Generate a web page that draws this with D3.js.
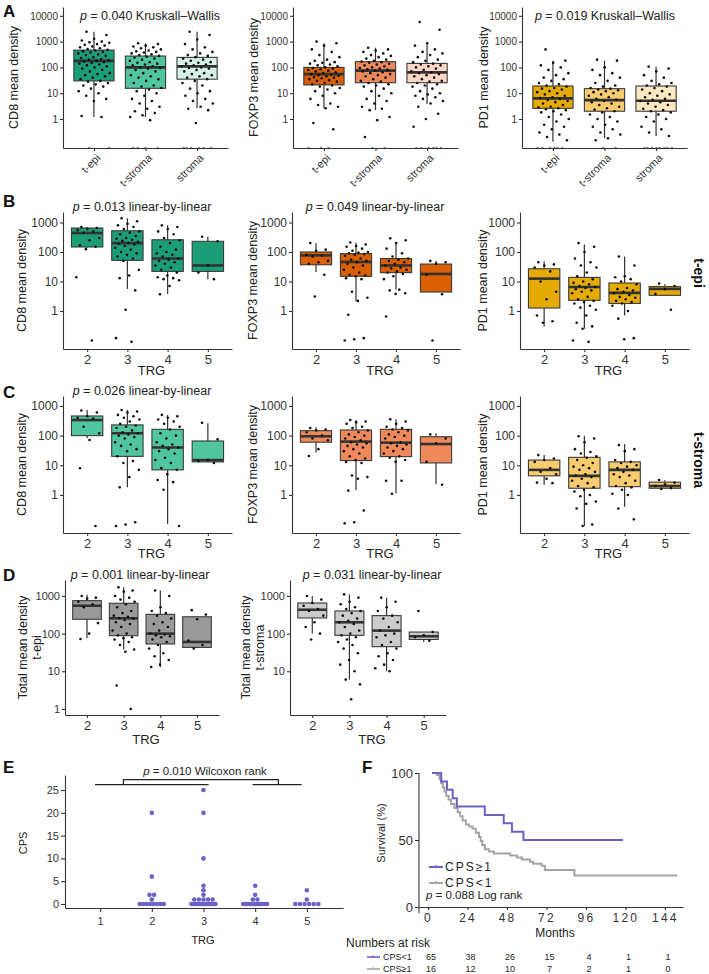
<!DOCTYPE html>
<html>
<head>
<meta charset="utf-8">
<script src="https://cdn.jsdelivr.net/npm/d3@7"></script>
<style>
body { margin: 0; background: #fff; }
</style>
</head>
<body>
<div id="vis"></div>
<script>
var W = 709, H = 974;
var FONT = "Liberation Sans, Arial, sans-serif";

/* categories */
var regions = ["t-epi", "t-stroma", "stroma"];
var trgLevels = ["2", "3", "4", "5"];

/* box stats: [low whisker, q1, median, q3, high whisker] ; 0 = zero density */
var boxCD8Region = [[1.2, 30, 180, 470, 2400], [1.2, 15.5, 100, 276, 860], [2.6, 35, 110, 245, 2400]];
var boxFOXP3Region = [[2.6, 21, 55, 100, 860], [2.2, 25.5, 75, 167, 580], [3.8, 25.5, 64, 143, 860]];
var boxPD1Region = [[0.13, 2.6, 6.3, 19, 183], [0.18, 2.0, 5.4, 15, 183], [0.22, 2.0, 5.1, 19, 107]];

var ptsCD8Region = [
  [2400, 1800, 1300, 1100, 1000, 950, 900, 800, 750, 700, 650, 600, 550, 520, 480, 450, 420, 400, 380, 350, 320, 300, 280, 250, 230, 210, 200, 190, 180, 170, 160, 150, 140, 130, 120, 110, 100, 90, 80, 70, 60, 55, 50, 45, 40, 35, 30, 28, 25, 22, 20, 18, 15, 12, 10, 8, 6, 5, 1.3, 1.2, 0, 0],
  [860, 800, 700, 650, 600, 550, 500, 450, 420, 400, 380, 350, 320, 300, 280, 260, 240, 220, 200, 180, 160, 150, 140, 130, 120, 110, 100, 95, 90, 80, 70, 60, 50, 45, 40, 35, 30, 25, 20, 18, 16, 14, 12, 10, 8, 6, 5, 4, 3, 2.5, 2, 1.7, 1.4, 1.2, 0.9, 0, 0, 0, 0],
  [2400, 1800, 1200, 800, 600, 500, 400, 350, 300, 280, 250, 220, 200, 180, 160, 150, 140, 130, 120, 110, 100, 95, 90, 80, 70, 60, 55, 50, 45, 40, 35, 30, 25, 20, 15, 12, 10, 8, 6, 5, 4, 3, 2.5, 2.2, 0.7, 0, 0, 0, 0, 0, 0]
];
var ptsFOXP3Region = [
  [1000, 860, 700, 500, 400, 300, 250, 200, 180, 160, 150, 140, 130, 120, 110, 100, 95, 90, 85, 80, 75, 70, 65, 60, 55, 52, 50, 48, 45, 42, 40, 38, 35, 32, 30, 28, 25, 22, 20, 18, 16, 14, 12, 10, 8, 6, 4, 3.5, 3, 2.6, 0.7, 0.4, 0, 0, 0],
  [580, 500, 450, 400, 350, 300, 280, 250, 220, 200, 180, 170, 160, 150, 140, 130, 120, 110, 100, 95, 90, 85, 80, 75, 70, 65, 60, 55, 50, 45, 40, 35, 30, 28, 25, 22, 20, 18, 15, 12, 10, 8, 6, 5, 4, 3, 2.5, 2.2, 1.2, 0.9, 0.2, 0, 0],
  [5800, 2900, 860, 700, 500, 400, 350, 300, 250, 200, 180, 160, 140, 130, 120, 110, 100, 90, 80, 70, 65, 60, 55, 50, 45, 40, 35, 30, 28, 25, 22, 20, 18, 15, 12, 10, 9, 8, 7, 6, 5, 4, 3, 1.6, 1, 0.5, 0, 0, 0, 0, 0, 0]
];
var ptsPD1Region = [
  [500, 183, 150, 120, 100, 80, 60, 50, 40, 35, 30, 25, 22, 20, 18, 16, 15, 14, 12, 11, 10, 9, 8, 7, 6.5, 6, 5.5, 5, 4.5, 4, 3.5, 3, 2.8, 2.6, 2.4, 2.2, 2, 1.8, 1.5, 1.2, 1, 0.8, 0.6, 0.5, 0.4, 0.3, 0.25, 0.2, 0.15, 0, 0, 0, 0, 0, 0],
  [200, 183, 100, 80, 60, 50, 40, 30, 25, 20, 18, 16, 15, 14, 13, 12, 11, 10, 9, 8, 7, 6, 5.5, 5, 4.5, 4, 3.5, 3, 2.6, 2.3, 2, 1.8, 1.5, 1.2, 1, 0.8, 0.6, 0.5, 0.4, 0.3, 0.25, 0.18, 0.15, 0, 0],
  [107, 90, 70, 50, 40, 30, 25, 22, 20, 18, 16, 14, 12, 10, 9, 8, 7, 6, 5.5, 5, 4.5, 4, 3.5, 3, 2.5, 2.2, 2, 1.8, 1.5, 1.2, 1, 0.8, 0.5, 0.4, 0.3, 0.22, 0, 0, 0, 0, 0, 0, 0, 0]
];

/* t-epi by TRG */
var boxCD8Epi = [[140, 148, 440, 650, 700], [5.6, 52, 200, 525, 1400], [3.8, 22, 60, 260, 800], [12, 22, 35, 230, 330]];
var ptsCD8Epi = [
  [700, 650, 600, 550, 500, 450, 300, 250, 170, 150, 125, 14, 0.1],
  [1400, 1100, 900, 800, 700, 600, 500, 450, 400, 350, 300, 280, 260, 240, 220, 200, 190, 180, 160, 140, 120, 100, 90, 80, 70, 60, 50, 25, 16, 13, 5, 1.1, 0.12, 0.09],
  [800, 700, 600, 500, 400, 300, 250, 200, 150, 120, 100, 90, 80, 70, 60, 55, 50, 45, 40, 35, 30, 25, 20, 16, 14, 13, 12, 11, 7, 3.7],
  [330, 230, 35, 20, 12]
];
var boxFOXP3Epi = [[21, 37, 77, 100, 200], [2.1, 15, 46, 88, 210], [5.3, 20, 35, 60, 210], [4.4, 4.4, 18, 39, 50]];
var ptsFOXP3Epi = [
  [200, 120, 110, 80, 75, 70, 50, 45, 40, 17, 3.1],
  [210, 180, 160, 150, 130, 110, 100, 95, 90, 85, 80, 75, 60, 55, 50, 45, 40, 35, 30, 25, 20, 17, 16, 15, 13, 12, 4.5, 2.8, 2.2, 0.75, 0.12, 0.11, 0.1],
  [290, 250, 200, 130, 90, 70, 60, 55, 50, 45, 40, 35, 30, 28, 25, 22, 20, 18, 15, 12, 5.3, 5, 4, 3.8, 0.65],
  [50, 45, 40, 17, 3.7, 0.1]
];
var boxPD1Epi = [[0.3, 1.26, 12.5, 27, 49], [0.25, 2.3, 6.5, 13.8, 178], [0.7, 1.8, 4.1, 8.9, 71], [3.4, 3.4, 5.6, 6.7, 8]];
var ptsPD1Epi = [
  [45, 38, 35, 30, 22, 10, 4.5, 2.5, 0.7, 0.45, 0.4],
  [200, 150, 100, 60, 45, 35, 30, 20, 15, 12, 10, 9, 8, 7, 6.5, 6, 5.5, 5, 4.5, 4, 3, 2.5, 2.2, 2, 1.8, 1.5, 1.3, 1.1, 0.7, 0.4, 0.3, 0.25, 0.1, 0.09],
  [70, 35, 15, 14, 12, 10, 8, 6, 5.5, 5, 4.5, 4, 3.5, 3, 2.8, 2.5, 2.2, 2, 1.8, 1.5, 1, 0.55, 0.12, 0.11],
  [8.5, 7, 5.5, 3.8, 1.1]
];

/* t-stroma by TRG */
var boxCD8Str = [[81, 100, 335, 460, 730], [1.8, 20, 120, 230, 730], [0.105, 7, 40, 163, 500], [13, 13, 15, 66, 260]];
var ptsCD8Str = [
  [700, 600, 450, 400, 380, 200, 120, 71, 7.9, 0.09],
  [730, 650, 600, 500, 450, 400, 350, 300, 250, 220, 200, 180, 150, 130, 120, 110, 100, 90, 80, 60, 50, 45, 35, 30, 20, 14, 12, 7, 4, 1.8, 0.12, 0.1, 0.09],
  [500, 450, 400, 350, 300, 250, 200, 160, 120, 100, 80, 60, 50, 45, 40, 35, 30, 25, 18, 15, 12, 8, 7, 5, 3.2, 2.7, 1.5, 0.09],
  [270, 75, 15, 14, 12]
];
var boxFOXP3Str = [[27, 60, 95, 147, 190], [1.47, 14.4, 63, 155, 335], [1.14, 19.6, 58, 163, 355], [2.3, 12, 52, 92, 120]];
var ptsFOXP3Str = [
  [180, 160, 150, 130, 100, 80, 70, 35, 20.6],
  [335, 300, 280, 250, 200, 180, 150, 130, 110, 100, 90, 80, 70, 60, 55, 50, 45, 40, 35, 30, 25, 20, 17, 15, 13, 12, 4.5, 4, 3.5, 1.4, 0.3, 0.12, 0.11],
  [355, 300, 250, 200, 180, 160, 150, 130, 110, 100, 90, 80, 60, 55, 50, 45, 40, 35, 30, 25, 20, 18, 15, 13, 3, 3, 1.1],
  [110, 80, 55, 13, 2.2]
];
var boxPD1Str = [[2.2, 4.4, 7, 15, 22], [0.09, 1.68, 4.4, 18.5, 100], [0.4, 1.9, 7, 13, 52], [1.6, 1.68, 2.0, 2.7, 3.1]];
var ptsPD1Str = [
  [22, 17, 15, 13, 8, 6, 5, 3.5, 2.6, 2.5],
  [95, 80, 60, 35, 28, 25, 20, 18, 15, 12, 10, 9, 8, 7, 6, 5, 4.5, 4, 3.5, 3, 2.5, 2, 1.8, 1.5, 1.3, 1, 0.9, 0.6, 0.5, 0.35, 0.1, 0.09],
  [48, 35, 30, 15, 13, 12, 10, 9, 8, 7, 6, 5, 4.5, 4, 3, 2.5, 2, 1.8, 1.5, 1.1, 1, 0.35, 0.15],
  [3.2, 2.6, 2.3, 2, 1.7, 1.6]
];

/* total density by TRG */
var boxTotalEpi = [[75, 240, 550, 750, 1070], [38, 88, 255, 640, 1700], [12.7, 53, 100, 325, 1400], [43, 43, 60, 280, 280]];
var ptsTotalEpi = [
  [1000, 900, 850, 700, 600, 500, 190, 100, 72],
  [1700, 1400, 1300, 1000, 900, 800, 700, 600, 500, 400, 350, 300, 280, 260, 250, 230, 200, 180, 150, 120, 100, 90, 80, 75, 70, 60, 50, 38, 33, 4.2, 1.0],
  [1400, 1000, 500, 400, 350, 300, 250, 200, 180, 150, 120, 100, 95, 90, 85, 80, 70, 60, 50, 40, 30, 25, 20, 15, 13],
  [420, 320, 240, 65, 50, 40]
];
var boxTotalStr = [[100, 260, 430, 650, 1000], [6, 90, 200, 400, 1100], [10, 45, 120, 300, 900], [60, 70, 85, 110, 110]];
var ptsTotalStr = [
  [1000, 800, 650, 550, 450, 400, 300, 200, 150, 100, 70],
  [1100, 900, 700, 600, 500, 450, 400, 350, 300, 250, 220, 200, 180, 150, 120, 100, 90, 80, 70, 60, 50, 40, 30, 20, 15, 10, 6, 4.5, 1.8],
  [900, 700, 500, 400, 300, 250, 200, 150, 120, 100, 90, 80, 60, 50, 40, 30, 25, 20, 15, 12, 10],
  [400, 110, 90, 80, 65]
];

/* CPS by TRG */
var cpsLevels = ["1", "2", "3", "4", "5"];
var cpsValues = [
  [],
  [20, 6, 2, 2, 1, 0, 0, 0, 0, 0, 0, 0, 0],
  [25, 20, 10, 4, 3, 2, 1, 1, 1, 1, 1, 0, 0, 0, 0, 0, 0, 0, 0, 0, 0, 0, 0, 0, 0, 0, 0, 0, 0],
  [4, 2, 1, 1, 0, 0, 0, 0, 0, 0, 0, 0, 0, 0, 0, 0],
  [3, 1, 0, 0, 0, 0, 0, 0]
];
var cpsGroups = [[0.9, 3.1], [3.95, 4.9]];
var cpsBracketAt = [1.45, 4.45];

/* survival */
var kmMonths = [0, 24, 48, 72, 96, 120, 144];
var kmBlueT = [2.5, 8, 11.5, 15, 17.5, 34.5, 46, 51, 58, 118.5];
var kmBlueS = [100, 93.75, 87.5, 81.25, 75, 68.75, 62.5, 56.25, 50, 50];
var kmGrayT = [2.5, 5.5, 7, 8, 9, 10, 11, 12.5, 14, 16, 18, 19.5, 21, 23, 25, 27, 29, 31, 32, 33, 34.5, 37, 40, 50, 54, 57, 62, 64, 69, 71, 89, 151.5];
var kmGrayS = [100, 98.5, 95.4, 92.3, 89.2, 86.2, 83.1, 80, 76.9, 73.8, 70.8, 67.7, 64.6, 61.5, 60, 58.5, 55.4, 52.3, 49.2, 46.2, 43.1, 41.5, 40, 38.5, 36.9, 35.4, 33.8, 32.3, 30.8, 27.7, 23.5, 23.5];
var riskLabels = ["CPS<1", "CPS\u22651"];
var riskCounts = [[65, 38, 26, 15, 4, 1, 1], [16, 12, 10, 7, 2, 1, 0]];

/* colours */
var cd8Fill = ["#1b9e77", "#50c6a0", "#d5f1e5"];
var foxFill = ["#d95f02", "#f0895a", "#fcd7c5"];
var pd1Fill = ["#e6ab02", "#f7cb6e", "#fde8c1"];
var purple = "#6c62c6";
var grayLine = "#a4a4a4";

var svg = d3.select("#vis").append("svg").attr("width", W).attr("height", H)
    .attr("font-family", FONT);

function jit(j) { return ((j * 0.618034 + 0.27) % 1) - 0.5; }

function styleAxis(sel, size) {
    sel.attr("font-family", FONT).attr("font-size", size);
    sel.selectAll("path, line").attr("stroke", "#333").attr("stroke-width", 1.1);
    sel.selectAll("text").attr("fill", "#333");
}

function pTitle(x, y, rest, size) {
    var t = svg.append("text").attr("x", x).attr("y", y).attr("text-anchor", "middle")
        .attr("font-size", size).attr("fill", "#222");
    t.append("tspan").attr("font-style", "italic").text("p");
    t.append("tspan").text(" = " + rest);
}

function letter(s, x, y) {
    svg.append("text").attr("x", x).attr("y", y).attr("font-size", 17)
        .attr("font-weight", "bold").attr("fill", "#111").text(s);
}

/* one boxplot panel */
function boxPanel(c) {
    var g = svg.append("g");
    var n = c.cats.length;
    var x = d3.scaleLinear().domain([0.4, n + 0.6]).range([c.x0, c.x1]);
    var y = d3.scaleLog().domain(c.domain).range([c.yBot, c.yTop]);
    var bw = (x(2) - x(1)) * 0.78;
    function yv(v) { return v > 0 ? y(v) : c.yBot; }

    c.boxes.forEach(function (b, i) {
        var cx = x(i + 1);
        g.append("line").attr("x1", cx).attr("x2", cx).attr("y1", y(b[0])).attr("y2", y(b[4]))
            .attr("stroke", "#333").attr("stroke-width", 1.2);
        g.append("rect").attr("x", cx - bw / 2).attr("width", bw)
            .attr("y", y(b[3])).attr("height", Math.max(1, y(b[1]) - y(b[3])))
            .attr("fill", c.fills[i]).attr("stroke", "#3a3a3a").attr("stroke-width", 1.1);
        g.append("line").attr("x1", cx - bw / 2).attr("x2", cx + bw / 2)
            .attr("y1", y(b[2])).attr("y2", y(b[2]))
            .attr("stroke", "#333").attr("stroke-width", 2.6);
    });

    c.pts.forEach(function (arr, i) {
        g.selectAll(null).data(arr).enter().append("circle")
            .attr("cx", function (d, j) { return x(i + 1) + jit(j) * bw * 0.8; })
            .attr("cy", yv)
            .attr("r", 1.3)
            .attr("fill", function (d) { return d > 0 ? "#111" : "#8a8a8a"; });
    });

    var ay = g.append("g").attr("transform", "translate(" + c.x0 + ",0)")
        .call(d3.axisLeft(y).tickValues(c.ticks).tickFormat(d3.format("d"))
            .tickSize(3).tickSizeOuter(0).tickPadding(2));
    styleAxis(ay, c.tickFont);

    var ax = g.append("g").attr("transform", "translate(0," + c.yBot + ")")
        .call(d3.axisBottom(x).tickValues(d3.range(1, n + 1))
            .tickFormat(function (d) { return c.cats[d - 1]; })
            .tickSize(3).tickSizeOuter(0));
    styleAxis(ax, c.xFont);
    if (c.rotate) {
        ax.selectAll(".tick text").attr("text-anchor", "end").attr("y", 0).attr("dy", "0.35em")
            .attr("transform", "translate(4,8) rotate(-45)");
    }

    c.yLabel.forEach(function (s, k) {
        svg.append("text")
            .attr("transform", "translate(" + c.yLabelX[k] + "," + (c.yTop + c.yBot) / 2 + ") rotate(-90)")
            .attr("text-anchor", "middle").attr("dy", "0.35em")
            .attr("font-size", 12.5).attr("fill", "#222").text(s);
    });
    if (c.xTitle) {
        svg.append("text").attr("x", (c.x0 + c.x1) / 2 + 4).attr("y", c.xTitleY)
            .attr("text-anchor", "middle").attr("font-size", 13).attr("fill", "#222").text(c.xTitle);
    }
    if (c.title) pTitle(c.titleX, c.yTop - (c.titleGap || 1), c.title, 12.5);
}

/* ---------- Panel A ---------- */
var aX0 = [63, 293, 522];
var aBoxes = [boxCD8Region, boxFOXP3Region, boxPD1Region];
var aPts = [ptsCD8Region, ptsFOXP3Region, ptsPD1Region];
var aFills = [cd8Fill, foxFill, pd1Fill];
var markers = ["CD8", "FOXP3", "PD1"];
var aTitles = ["0.040 Kruskall\u2013Wallis", null, "0.019 Kruskall\u2013Wallis"];
var aTitleX = [150, 0, 605];
var aLabX = [14, 254, 484];
aX0.forEach(function (x0, k) {
    boxPanel({
        x0: x0, x1: x0 + 165, yTop: 7, yBot: 148, domain: [0.075, 22000],
        ticks: [1, 10, 100, 1000, 10000], cats: regions,
        boxes: aBoxes[k], pts: aPts[k], fills: aFills[k],
        tickFont: 10, xFont: 11, rotate: true,
        yLabel: [markers[k] + " mean density"], yLabelX: [aLabX[k]],
        title: aTitles[k], titleX: aTitleX[k], titleGap: -13
    });
});

/* ---------- Panels B and C ---------- */
var bcX0 = [63, 292, 520], bcX1 = [232, 460, 689];
var bLabX = [22, 253, 483];
var bBoxes = [boxCD8Epi, boxFOXP3Epi, boxPD1Epi], bPts = [ptsCD8Epi, ptsFOXP3Epi, ptsPD1Epi];
var cBoxes = [boxCD8Str, boxFOXP3Str, boxPD1Str], cPts = [ptsCD8Str, ptsFOXP3Str, ptsPD1Str];
var bTitles = ["0.013 linear-by-linear", "0.049 linear-by-linear", null];
var cTitles = ["0.026 linear-by-linear", null, null];
var bcTitleX = [142, 375, 0];
[0, 1, 2].forEach(function (k) {
    boxPanel({
        x0: bcX0[k], x1: bcX1[k], yTop: 212, yBot: 349, domain: [0.0515, 2270],
        ticks: [1, 10, 100, 1000], cats: trgLevels,
        boxes: bBoxes[k], pts: bPts[k], fills: [0, 1, 2, 3].map(function () { return aFills[k][0]; }),
        tickFont: 12, xFont: 13,
        yLabel: [markers[k] + " mean density"], yLabelX: [bLabX[k]],
        xTitle: "TRG", xTitleY: 375,
        title: bTitles[k], titleX: bcTitleX[k], titleGap: 1
    });
    boxPanel({
        x0: bcX0[k], x1: bcX1[k], yTop: 396, yBot: 533, domain: [0.052, 2170],
        ticks: [1, 10, 100, 1000], cats: trgLevels,
        boxes: cBoxes[k], pts: cPts[k], fills: [0, 1, 2, 3].map(function () { return aFills[k][1]; }),
        tickFont: 12, xFont: 13,
        yLabel: [markers[k] + " mean density"], yLabelX: [bLabX[k]],
        xTitle: "TRG", xTitleY: 558,
        title: cTitles[k], titleX: bcTitleX[k], titleGap: 0
    });
});

/* ---------- Panel D ---------- */
boxPanel({
    x0: 65, x1: 219, yTop: 580, yBot: 715, domain: [0.69, 2650],
    ticks: [1, 10, 100, 1000], cats: trgLevels,
    boxes: boxTotalEpi, pts: ptsTotalEpi, fills: ["#999", "#999", "#999", "#999"],
    tickFont: 11, xFont: 13,
    yLabel: ["Total mean density", "t-epi"], yLabelX: [23, 37],
    xTitle: "TRG", xTitleY: 744,
    title: "0.001 linear-by-linear", titleX: 140, titleGap: 1
});
boxPanel({
    x0: 290, x1: 446, yTop: 580, yBot: 715, domain: [0.69, 2650],
    ticks: [10, 100, 1000], cats: trgLevels,
    boxes: boxTotalStr, pts: ptsTotalStr, fills: ["#ccc", "#ccc", "#ccc", "#ccc"],
    tickFont: 11, xFont: 13,
    yLabel: ["Total mean density", "t-stroma"], yLabelX: [246, 260],
    xTitle: "TRG", xTitleY: 744,
    title: "0.031 linear-by-linear", titleX: 372, titleGap: 1
});

/* right-side row labels */
[["t-epi", 273], ["t-stroma", 460]].forEach(function (r) {
    svg.append("text").attr("transform", "translate(699," + r[1] + ") rotate(90)")
        .attr("text-anchor", "middle").attr("dy", "0.35em")
        .attr("font-size", 14).attr("font-weight", "bold").attr("fill", "#111").text(r[0]);
});

/* ---------- Panel E ---------- */
var ex = d3.scaleLinear().domain([0.32, 5.7]).range([65, 343]);
var ey = d3.scaleLinear().domain([-0.88, 28.3]).range([908, 775]);
var eg = svg.append("g");
cpsValues.forEach(function (arr, i) {
    var counts = d3.rollup(arr, function (v) { return v.length; }, function (d) { return d; });
    var seen = new Map();
    arr.forEach(function (v) {
        var n = counts.get(v), k = seen.get(v) || 0;
        seen.set(v, k + 1);
        var sp = n > 1 ? Math.min(4.6, 24 / (n - 1)) : 0;
        eg.append("circle").attr("cx", ex(i + 1) + (k - (n - 1) / 2) * sp)
            .attr("cy", ey(v)).attr("r", 2.3).attr("fill", purple);
    });
});
var eyA = eg.append("g").attr("transform", "translate(65,0)")
    .call(d3.axisLeft(ey).tickValues([0, 5, 10, 15, 20, 25]).tickSize(4).tickSizeOuter(0).tickPadding(2));
styleAxis(eyA, 11);
var exA = eg.append("g").attr("transform", "translate(0,908)")
    .call(d3.axisBottom(ex).tickValues([1, 2, 3, 4, 5]).tickFormat(function (d) { return cpsLevels[d - 1]; })
        .tickSize(4).tickSizeOuter(0).tickPadding(5));
styleAxis(exA, 11);
cpsGroups.forEach(function (r) {
    eg.append("line").attr("x1", ex(r[0])).attr("x2", ex(r[1])).attr("y1", ey(26.2)).attr("y2", ey(26.2))
        .attr("stroke", "#222").attr("stroke-width", 1.2);
});
eg.append("path")
    .attr("d", "M" + ex(cpsBracketAt[0]) + "," + ey(26.2) + "V" + ey(27.3) + "H" + ex(cpsBracketAt[1]) + "V" + ey(26.2))
    .attr("fill", "none").attr("stroke", "#222").attr("stroke-width", 1.2);
pTitle(205, 775, "0.010 Wilcoxon rank", 11.5);
svg.append("text").attr("transform", "translate(23,843) rotate(-90)").attr("text-anchor", "middle")
    .attr("dy", "0.35em").attr("font-size", 11).attr("fill", "#222").text("CPS");
svg.append("text").attr("x", 203).attr("y", 944).attr("text-anchor", "middle")
    .attr("font-size", 11).attr("fill", "#222").text("TRG");

/* ---------- Panel F ---------- */
var fx = d3.scaleLinear().domain([-5.5, 155]).range([419, 683]);
var fy = d3.scaleLinear().domain([0, 100]).range([907, 773]);
var fg = svg.append("g");
var km = d3.line().x(function (d) { return fx(d[0]); }).y(function (d) { return fy(d[1]); })
    .curve(d3.curveStepAfter);
fg.append("path").attr("d", km(d3.zip(kmGrayT, kmGrayS))).attr("fill", "none")
    .attr("stroke", grayLine).attr("stroke-width", 2);
fg.append("path").attr("d", km(d3.zip(kmBlueT, kmBlueS))).attr("fill", "none")
    .attr("stroke", purple).attr("stroke-width", 2);
var fyA = fg.append("g").attr("transform", "translate(419,0)")
    .call(d3.axisLeft(fy).tickValues([0, 50, 100]).tickSize(4).tickSizeOuter(0).tickPadding(2));
fyA.select(".domain").attr("d", "M0," + fy(-4.5) + "V" + fy(100));
styleAxis(fyA, 13);
var fxA = fg.append("g").attr("transform", "translate(0,907)")
    .call(d3.axisBottom(fx).tickValues(kmMonths).tickSize(3).tickSizeOuter(0).tickPadding(3));
styleAxis(fxA, 12);
fxA.selectAll(".tick text").attr("letter-spacing", 2.2);
svg.append("text").attr("x", 555).attr("y", 937).attr("text-anchor", "middle")
    .attr("font-size", 12).attr("fill", "#222").text("Months");
svg.append("text").attr("transform", "translate(381,833) rotate(-90)").attr("text-anchor", "middle")
    .attr("dy", "0.35em").attr("font-size", 11).attr("fill", "#222").text("Survival (%)");

/* legend */
[["CPS\u22651", purple, 867], ["CPS<1", grayLine, 883]].forEach(function (l) {
    fg.append("line").attr("x1", 429).attr("x2", 443).attr("y1", l[2]).attr("y2", l[2])
        .attr("stroke", l[1]).attr("stroke-width", 2);
    fg.append("line").attr("x1", 436).attr("x2", 436).attr("y1", l[2] - 2).attr("y2", l[2])
        .attr("stroke", l[1]).attr("stroke-width", 1.2);
    fg.append("text").attr("x", 445).attr("y", l[2] + 4).attr("font-size", 12)
        .attr("letter-spacing", 2).attr("fill", "#222").text(l[0]);
});
var pl = svg.append("text").attr("x", 426).attr("y", 899).attr("font-size", 11.5).attr("fill", "#222");
pl.append("tspan").attr("font-style", "italic").text("p");
pl.append("tspan").text(" = 0.088 Log rank");

/* numbers at risk */
svg.append("text").attr("x", 346).attr("y", 947).attr("font-size", 12).attr("fill", "#222").text("Numbers at risk");
var riskY = [957, 969], riskCol = [purple, grayLine];
riskCounts.forEach(function (row, r) {
    svg.append("line").attr("x1", 367).attr("x2", 380).attr("y1", riskY[r]).attr("y2", riskY[r])
        .attr("stroke", riskCol[r]).attr("stroke-width", 1.6);
    svg.append("line").attr("x1", 373).attr("x2", 373).attr("y1", riskY[r] - 2).attr("y2", riskY[r])
        .attr("stroke", riskCol[r]).attr("stroke-width", 1);
    svg.append("text").attr("x", 383).attr("y", riskY[r] + 3).attr("font-size", 9)
        .attr("fill", "#222").text(riskLabels[r]);
    row.forEach(function (v, i) {
        svg.append("text").attr("x", fx(kmMonths[i]) + 3).attr("y", riskY[r] + 3)
            .attr("text-anchor", "middle").attr("font-size", 9).attr("fill", "#222").text(v);
    });
});

/* panel letters */
letter("A", 3, 17); letter("B", 3, 207); letter("C", 3, 398);
letter("D", 3, 581); letter("E", 3, 773); letter("F", 362, 773);
</script>
</body>
</html>
